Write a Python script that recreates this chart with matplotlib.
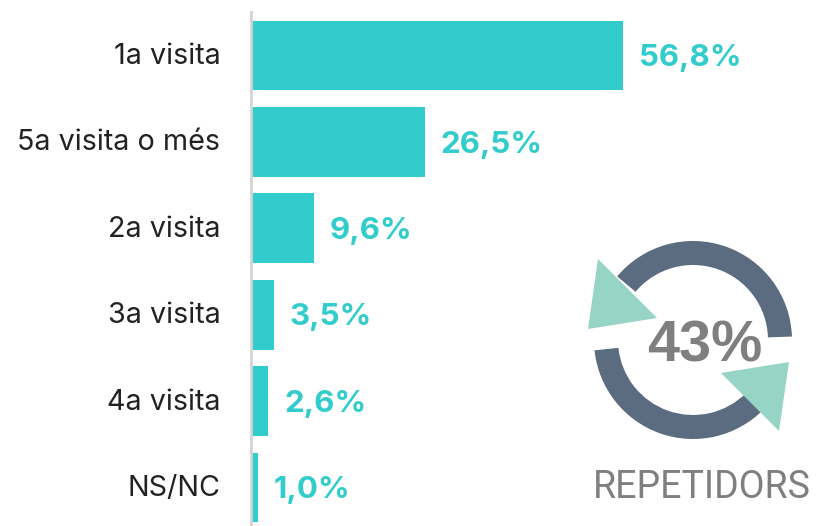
import matplotlib

matplotlib.use("Agg")
import matplotlib.pyplot as plt
from matplotlib.patches import Polygon, Wedge
from matplotlib.transforms import ScaledTranslation

categories = ["1a visita", "5a visita o més", "2a visita", "3a visita", "4a visita", "NS/NC"]
values = [56.8, 26.5, 9.6, 3.5, 2.6, 1.0]
value_labels = ["56,8%", "26,5%", "9,6%", "3,5%", "2,6%", "1,0%"]
repeat_label = "43%"
repeat_caption = "REPETIDORS"

BAR_COLOR = "#33CCCC"
RING_COLOR = "#5B6C80"
ARROW_COLOR = "#96D5C6"
GREY = "#7F7F7F"
W, H = 833, 526

fig = plt.figure(figsize=(W / 100, H / 100), dpi=100)

# barres: l'eix comença a x=251 px, 6.55 px per punt percentual
ax = fig.add_axes([251 / W, 0, (W - 251) / W, (H - 12) / H])
ax.barh(range(len(values)), values, height=0.81, color=BAR_COLOR)
ax.set_xlim(0, (W - 251) / 6.55)
ax.set_ylim((H - 55.5) / 86.4, -(55.5 - 12) / 86.4)
ax.set_xticks([])
ax.set_yticks(range(len(categories)))
ax.set_yticklabels(categories, fontsize=20.7, family="Inter", color="#222222")
ax.tick_params(axis="y", length=0, pad=22)
# les etiquetes van 2 px més amunt que el centre de la barra
for tick_label in ax.get_yticklabels():
    tick_label.set_transform(tick_label.get_transform() + ScaledTranslation(0, 2 / 100, fig.dpi_scale_trans))
for side in ["top", "right", "bottom"]:
    ax.spines[side].set_visible(False)
ax.spines["left"].set_color("#D4D4D4")
ax.spines["left"].set_linewidth(2)

for i, (v, label) in enumerate(zip(values, value_labels)):
    ax.annotate(
        label,
        (v, i),
        xytext=(11.5, -2),
        textcoords="offset points",
        va="center",
        ha="left",
        fontsize=22.5,
        fontweight="bold",
        family="Inter",
        color=BAR_COLOR,
    )

# icona de repetidors, en coordenades de píxel
icon = fig.add_axes([0, 0, 1, 1])
icon.set_xlim(0, W)
icon.set_ylim(H, 0)
icon.axis("off")
icon.patch.set_alpha(0)

center = (693, 340)
icon.add_patch(Wedge(center, 99, -140, -2, width=24, color=RING_COLOR, lw=0))
icon.add_patch(Wedge(center, 99, 45, 174, width=24, color=RING_COLOR, lw=0))
icon.add_patch(Polygon([(598, 259), (588, 329), (657, 318)], color=ARROW_COLOR, lw=0))
icon.add_patch(Polygon([(721, 373), (789, 362), (779, 431)], color=ARROW_COLOR, lw=0))

icon.text(705, 346, repeat_label, ha="center", va="center", fontsize=41.5, fontweight="bold",
          family="Liberation Sans", color=GREY)
icon.text(702, 487, repeat_caption, ha="center", va="center", fontsize=27,
          family="Roboto", fontweight="normal", color=GREY)

fig.savefig("out.png", dpi=100)
